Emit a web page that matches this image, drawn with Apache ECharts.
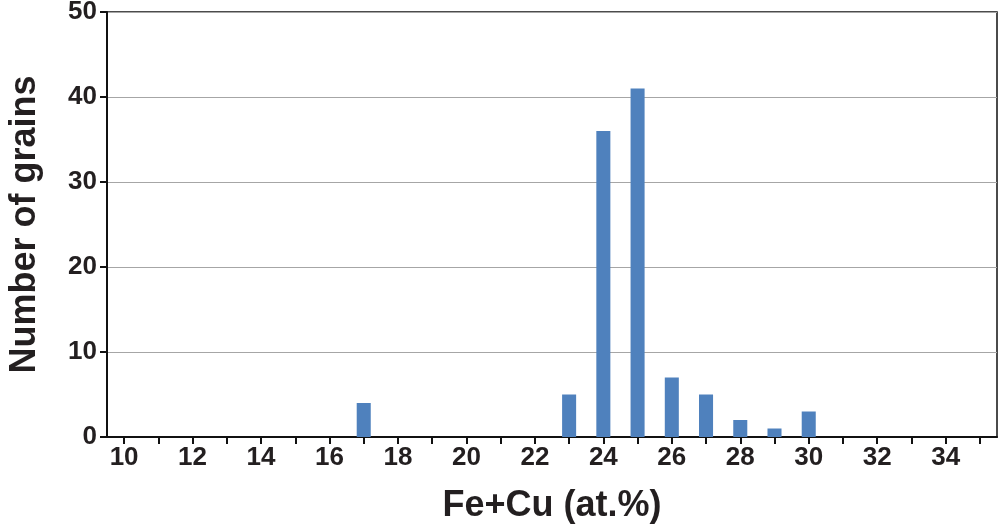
<!DOCTYPE html>
<html>
<head>
<meta charset="utf-8">
<script src="https://cdn.jsdelivr.net/npm/echarts@6/dist/echarts.min.js"></script>
<style>html,body{margin:0;padding:0;background:#fff}#c{width:1000px;height:530px}</style>
</head>
<body>
<div id="c"></div>
<script>
const categories = ['10','11','12','13','14','15','16','17','18','19','20','21','22','23','24','25','26','27','28','29','30','31','32','33','34','35'];
const grains = [0,0,0,0,0,0,0,4,0,0,0,0,0,5,36,41,7,5,2,1,3,0,0,0,0,0];
const yTicks = {min:0, max:50, interval:10};
const xName = 'Fe+Cu (at.%)';
const yName = 'Number of grains';

const chart = echarts.init(document.getElementById('c'), null, {renderer:'canvas'});
chart.setOption({
  animation:false,
  backgroundColor:'#fff',
  grid:{left:107, right:3, top:12, bottom:93, containLabel:false, outerBoundsMode:'none', show:true, borderColor:'#111', borderWidth:1.5},
  xAxis:{
    type:'category', data:categories, boundaryGap:true,
    name:xName, nameLocation:'middle', nameGap:51,
    nameTextStyle:{fontFamily:'Liberation Sans, Arial', fontWeight:'bold', fontSize:36, color:'#231f20'},
    axisLine:{lineStyle:{color:'#111', width:2}},
    axisTick:{show:true, alignWithLabel:true, interval:0, length:7, lineStyle:{color:'#111', width:2}},
    axisLabel:{interval:1, margin:8, fontFamily:'Liberation Sans, Arial', fontWeight:'bold', fontSize:26, color:'#231f20'},
    splitLine:{show:false}
  },
  yAxis:{
    type:'value', min:yTicks.min, max:yTicks.max, interval:yTicks.interval,
    name:yName, nameLocation:'middle', nameGap:64, nameRotate:90,
    nameTextStyle:{fontFamily:'Liberation Sans, Arial', fontWeight:'bold', fontSize:36, color:'#231f20'},
    axisLine:{show:true, lineStyle:{color:'#111', width:2}},
    axisTick:{show:true, length:7, lineStyle:{color:'#111', width:2}},
    axisLabel:{margin:10, fontFamily:'Liberation Sans, Arial', fontWeight:'bold', fontSize:26, color:'#231f20'},
    splitLine:{show:true, lineStyle:{color:'#a6a6a6', width:1}}
  },
  series:[{
    type:'bar', data:grains, barWidth:'41%',
    itemStyle:{color:'#4f81bd'}
  }]
});
</script>
</body>
</html>
